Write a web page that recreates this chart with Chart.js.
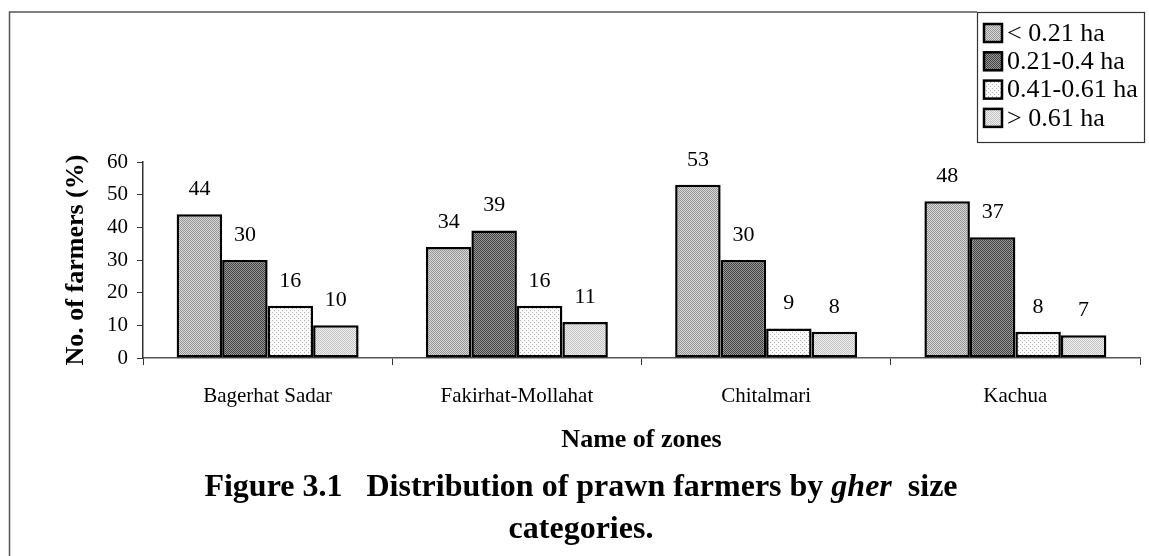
<!DOCTYPE html>
<html>
<head>
<meta charset="utf-8">
<script src="https://cdn.jsdelivr.net/npm/chart.js@4.4.0/dist/chart.umd.min.js"></script>
<style>
    html, body { margin: 0; padding: 0; background: #fff; }
    #wrap { position: relative; width: 1149px; height: 556px; }
    #caption {
        position: absolute; left: 0; top: 464px; width: 1162px;
        text-align: center; font: bold 32px 'Liberation Serif', serif;
        line-height: 42px; color: #000;
    }
</style>
</head>
<body>
<div id="wrap">
    <canvas id="myChart" width="1149" height="556"></canvas>
    <div id="caption">Figure 3.1&nbsp;&nbsp;&nbsp;Distribution of prawn farmers by <i>gher</i>&nbsp; size<br>categories.</div>
</div>
<script>
var zone_labels = ['Bagerhat Sadar', 'Fakirhat-Mollahat', 'Chitalmari', 'Kachua'];
var size_names = ['< 0.21 ha', '0.21-0.4 ha', '0.41-0.61 ha', '> 0.61 ha'];
var lt_021 = [44, 34, 53, 48];
var r021_04 = [30, 39, 30, 37];
var r041_061 = [16, 16, 9, 8];
var gt_061 = [10, 11, 8, 7];
var y_ticks = [0, 10, 20, 30, 40, 50, 60];

// dotted fill like the scanned print
function makePattern(base, dot, step) {
    var c = document.createElement('canvas');
    c.width = step; c.height = step;
    var x = c.getContext('2d');
    x.fillStyle = base;
    x.fillRect(0, 0, step, step);
    x.fillStyle = dot;
    x.fillRect(0, 0, 1, 1);
    if (step == 2) { x.fillRect(1, 1, 1, 1); }
    else { x.fillRect(step / 2, step / 2, 1, 1); }
    return x.createPattern(c, 'repeat');
}
var ctx = document.getElementById('myChart').getContext('2d');
var fills = [
    makePattern('#d8d8d8', '#959595', 2),
    makePattern('#9a9a9a', '#404040', 2),
    makePattern('#fbfbfb', '#b0b0b0', 4),
    makePattern('#f0f0f0', '#c2c2c2', 2)
];
var all_values = [lt_021, r021_04, r041_061, gt_061];

const framePlugin = {
    id: 'frame',
    beforeDraw: function (chart) {
        const c = chart.ctx;
        c.save();
        c.strokeStyle = '#555';
        c.lineWidth = 1.5;
        c.beginPath();
        c.moveTo(9.5, 556);
        c.lineTo(9.5, 12);
        c.lineTo(977, 12);
        c.stroke();
        c.restore();
    }
};

const valuePlugin = {
    id: 'values',
    afterDatasetsDraw: function (chart) {
        const c = chart.ctx;
        c.save();
        c.font = '22px "Liberation Serif"';
        c.fillStyle = '#000';
        c.textAlign = 'center';
        c.textBaseline = 'middle';
        chart.data.datasets.forEach(function (ds, i) {
            chart.getDatasetMeta(i).data.forEach(function (bar, j) {
                c.fillText(ds.data[j], bar.x, bar.y - 25);
            });
        });
        c.restore();
    }
};

const boxLegend = {
    id: 'boxLegend',
    afterDraw: function (chart) {
        const c = chart.ctx;
        c.save();
        c.fillStyle = '#fff';
        c.fillRect(977, 12, 168, 130);
        c.strokeStyle = '#333';
        c.lineWidth = 1.2;
        c.strokeRect(977.5, 12.5, 167, 130);
        c.font = '26px "Liberation Serif"';
        c.textBaseline = 'middle';
        chart.data.datasets.forEach(function (ds, i) {
            var yy = 33 + i * 28.3;
            c.fillStyle = ds.backgroundColor;
            c.fillRect(984, yy - 9, 18, 18);
            c.strokeStyle = '#000';
            c.lineWidth = 2.5;
            c.strokeRect(984, yy - 9, 18, 18);
            c.fillStyle = '#000';
            c.fillText(ds.label, 1007, yy + 1);
        });
        c.restore();
    }
};

const datasets = [];
size_names.forEach(function (name, i) {
    datasets.push({
        label: name,
        data: all_values[i],
        backgroundColor: fills[i],
        borderColor: '#000',
        borderWidth: 2.5,
        borderSkipped: false,
        categoryPercentage: 0.73,
        barPercentage: 1.0
    });
});

const myChart = new Chart(ctx, {
    type: 'bar',
    data: { labels: zone_labels, datasets: datasets },
    plugins: [framePlugin, valuePlugin, boxLegend],
    options: {
        responsive: false,
        animation: false,
        layout: { padding: { left: 0, right: 9, top: 162, bottom: 96 } },
        plugins: {
            legend: { display: false },
            tooltip: { enabled: false },
            title: { display: false }
        },
        scales: {
            x: {
                afterFit: function (s) { s.height = 102; },
                grid: { offset: true, drawOnChartArea: false, tickLength: 7, color: '#333', lineWidth: 1 },
                border: { color: '#555', width: 1.5 },
                ticks: { color: '#000', padding: 19, font: { family: 'Liberation Serif', size: 21 } },
                title: {
                    display: true, text: 'Name of zones', color: '#000',
                    font: { family: 'Liberation Serif', size: 26, weight: 'bold' },
                    padding: { top: 0, bottom: 4 }
                }
            },
            y: {
                min: 0, max: 60,
                afterFit: function (s) { s.width = 143; },
                afterBuildTicks: function (s) { s.ticks = y_ticks.map(function (v) { return { value: v }; }); },
                grid: { drawOnChartArea: false, tickLength: 6, color: '#333' },
                border: { color: '#333', width: 1.5 },
                ticks: { color: '#000', padding: 9, font: { family: 'Liberation Serif', size: 21 } },
                title: {
                    display: true, text: 'No. of farmers (%)', color: '#000',
                    font: { family: 'Liberation Serif', size: 26, weight: 'bold' },
                    padding: { top: 61, bottom: 0 }
                }
            }
        }
    }
});
</script>
</body>
</html>
